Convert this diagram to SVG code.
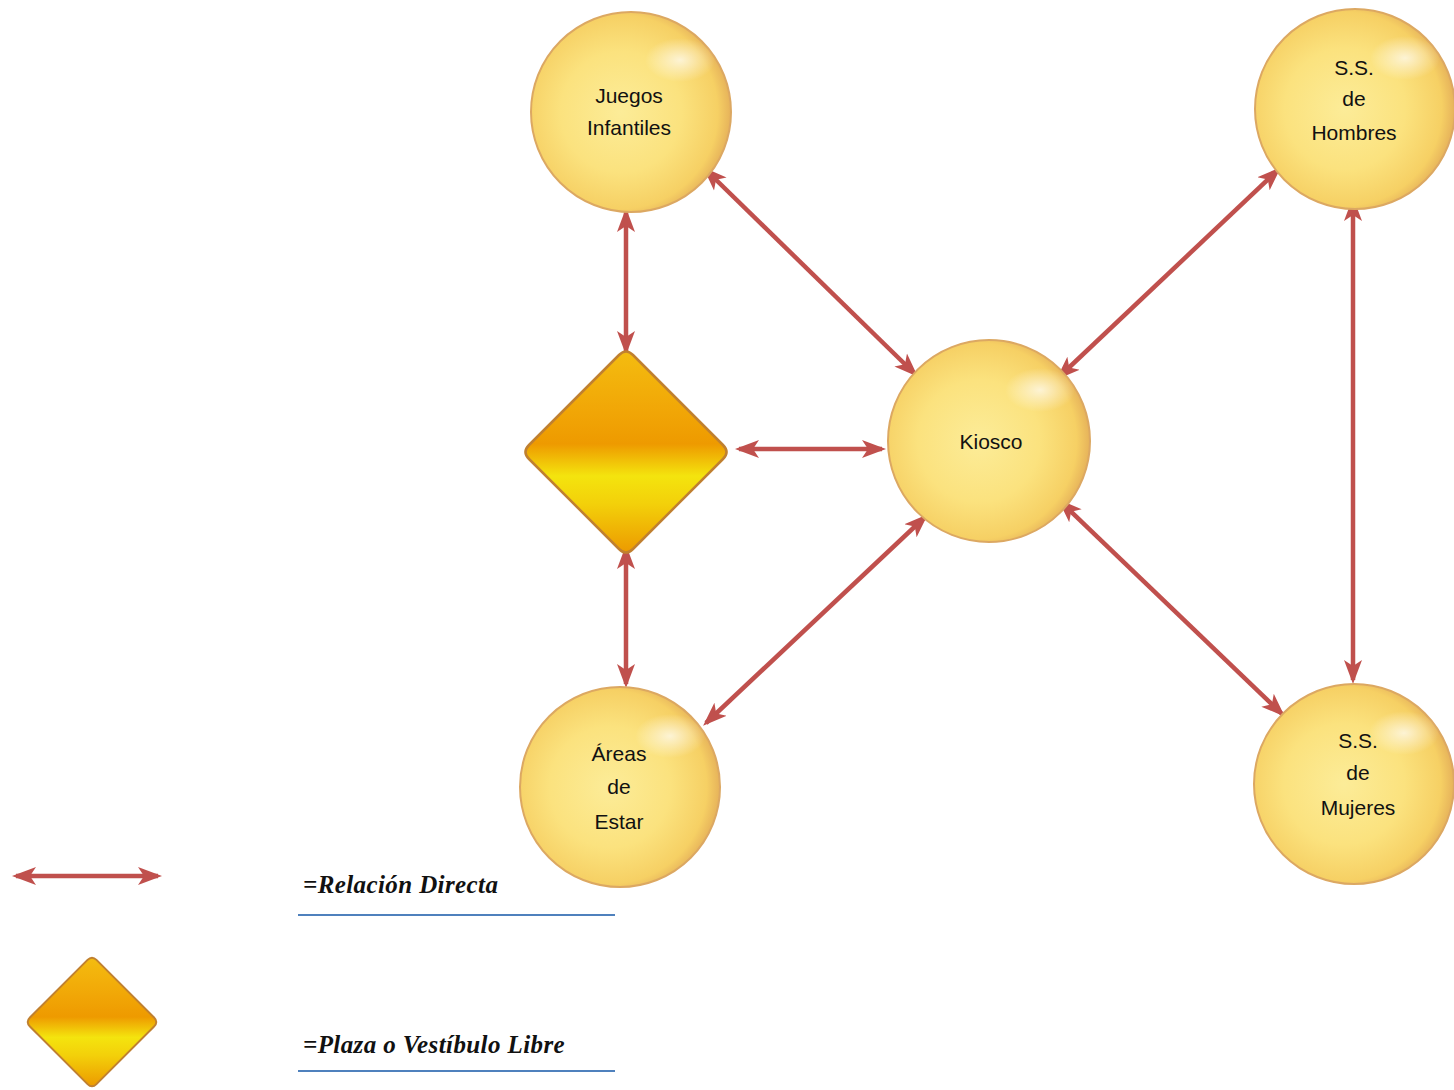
<svg xmlns="http://www.w3.org/2000/svg" width="1454" height="1090" viewBox="0 0 1454 1090">
<style>
.lbl{font-family:"Liberation Sans",Arial,sans-serif;font-size:21px;fill:#111;text-anchor:middle}
.leg{font-family:"Liberation Serif","Times New Roman",serif;font-size:25px;font-style:italic;font-weight:bold;fill:#111;letter-spacing:0.4px}
.con{stroke:#C0504D;stroke-width:4.5;fill:none;marker-start:url(#ah);marker-end:url(#ah)}
.sph{fill:url(#sg);stroke:#DCA862;stroke-width:2}
.hl{fill:url(#hg)}
.rule{stroke:#4F81BD;stroke-width:2}
</style>
<defs>
<radialGradient id="sg" cx="0.45" cy="0.5" r="0.55">
<stop offset="0" stop-color="#FCEC98"/>
<stop offset="0.55" stop-color="#FBE27E"/>
<stop offset="0.88" stop-color="#F6D064"/>
<stop offset="1" stop-color="#E6B25A"/>
</radialGradient>
<radialGradient id="hg" cx="0.5" cy="0.5" r="0.5">
<stop offset="0" stop-color="#FFFFFF" stop-opacity="0.7"/>
<stop offset="1" stop-color="#FFFFFF" stop-opacity="0"/>
</radialGradient>
<linearGradient id="dg" x1="0" y1="0" x2="0" y2="1">
<stop offset="0" stop-color="#F4BC10"/>
<stop offset="0.3" stop-color="#F1A606"/>
<stop offset="0.46" stop-color="#EE9A00"/>
<stop offset="0.62" stop-color="#F4E40E"/>
<stop offset="0.76" stop-color="#F3D00A"/>
<stop offset="1" stop-color="#EC9A00"/>
</linearGradient>
<path id="dia" d="M-7,-97 Q0,-104 7,-97 L97,-7 Q104,0 97,7 L7,97 Q0,104 -7,97 L-97,7 Q-104,0 -97,-7 Z"/>
<marker id="ah" markerUnits="userSpaceOnUse" markerWidth="24" markerHeight="20" viewBox="0 0 24 20" refX="20" refY="10" orient="auto-start-reverse">
<path d="M0,1 L24,10 L0,19 L6,10 Z" fill="#C0504D"/>
</marker>
</defs>
<rect width="1454" height="1090" fill="#FFFFFF"/>
<g id="connectors">
<line class="con" x1="626" y1="212" x2="626" y2="351"/>
<line class="con" x1="706" y1="170" x2="915" y2="374"/>
<line class="con" x1="739" y1="449" x2="882" y2="449"/>
<line class="con" x1="626" y1="549" x2="626" y2="684"/>
<line class="con" x1="706" y1="723" x2="925" y2="517"/>
<line class="con" x1="1059" y1="377" x2="1278" y2="170"/>
<line class="con" x1="1061" y1="502" x2="1282" y2="714"/>
<line class="con" x1="1353" y1="201" x2="1353" y2="680"/>
</g>
<g id="node-juegos">
<circle class="sph" cx="631" cy="112" r="100"/>
<ellipse class="hl" cx="680" cy="60" rx="35" ry="22"/>
<text class="lbl" x="629" y="103">Juegos</text>
<text class="lbl" x="629" y="135">Infantiles</text>
</g>
<g id="node-hombres">
<circle class="sph" cx="1355" cy="109" r="100"/>
<ellipse class="hl" cx="1405" cy="58" rx="35" ry="22"/>
<text class="lbl" x="1354" y="75">S.S.</text>
<text class="lbl" x="1354" y="106">de</text>
<text class="lbl" x="1354" y="140">Hombres</text>
</g>
<g id="node-plaza">
<use href="#dia" transform="translate(626,452)" fill="url(#dg)" stroke="#C08030" stroke-width="2.5"/>
</g>
<g id="node-kiosco">
<circle class="sph" cx="989" cy="441" r="101"/>
<ellipse class="hl" cx="1040" cy="390" rx="35" ry="22"/>
<text class="lbl" x="991" y="449">Kiosco</text>
</g>
<g id="node-areas">
<circle class="sph" cx="620" cy="787" r="100"/>
<ellipse class="hl" cx="670" cy="736" rx="35" ry="22"/>
<text class="lbl" x="619" y="761">Áreas</text>
<text class="lbl" x="619" y="794">de</text>
<text class="lbl" x="619" y="829">Estar</text>
</g>
<g id="node-mujeres">
<circle class="sph" cx="1354" cy="784" r="100"/>
<ellipse class="hl" cx="1404" cy="733" rx="35" ry="22"/>
<text class="lbl" x="1358" y="748">S.S.</text>
<text class="lbl" x="1358" y="780">de</text>
<text class="lbl" x="1358" y="815">Mujeres</text>
</g>
<g id="legend">
<line class="con" x1="16" y1="876" x2="158" y2="876"/>
<text class="leg" x="303" y="893">=Relación Directa</text>
<line class="rule" x1="298" y1="915" x2="615" y2="915"/>
<use href="#dia" transform="translate(92,1022) scale(0.64)" fill="url(#dg)" stroke="#C08030" stroke-width="3"/>
<text class="leg" x="303" y="1053">=Plaza o Vestíbulo Libre</text>
<line class="rule" x1="298" y1="1071" x2="615" y2="1071"/>
</g>
</svg>
